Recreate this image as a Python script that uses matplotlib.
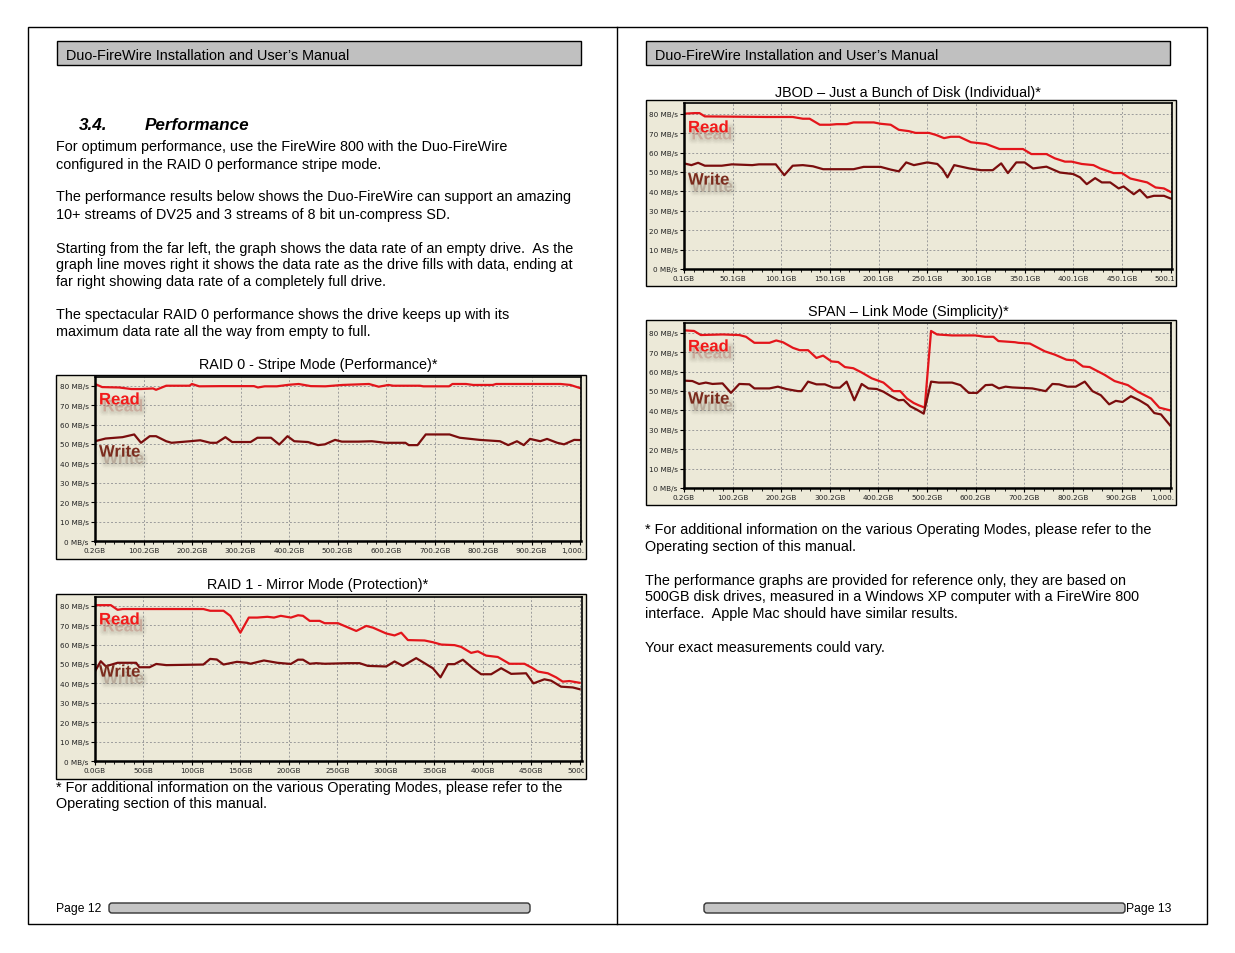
import matplotlib
matplotlib.use("Agg")
import matplotlib.pyplot as plt
import matplotlib.patheffects as pe
from matplotlib.patches import Rectangle, FancyBboxPatch
from matplotlib.ticker import AutoMinorLocator
from matplotlib.transforms import Bbox, TransformedBbox

# page size in pixels (figure is drawn at 100 dpi)
W, H = 1235, 954
plt.rcParams['font.family'] = ['Liberation Sans', 'DejaVu Sans']

BEIGE = '#ece9d8'
READ_C = '#e3151b'
WRITE_C = '#7a0d0d'

# ---- RAID 0 - stripe mode (GB written, MB/s) ----
r0_read_gb = [0.2, 15, 50, 75, 95, 120, 126, 147, 195, 200, 215, 260, 328, 336, 350, 375, 400, 420,
              445, 475, 510, 565, 585, 605, 615, 670, 677, 730, 737, 765, 780, 820, 827, 960, 980, 1000]
r0_read = [80.9, 79.3, 79.1, 78.3, 78.3, 78.6, 77.9, 80.0, 80.0, 80.9, 79.7, 79.8, 79.8, 79.1, 79.7,
           79.7, 80.5, 80.9, 79.8, 79.7, 80.4, 80.9, 79.5, 80.4, 80.0, 80.0, 79.7, 79.7, 80.9, 80.9,
           80.4, 80.4, 80.9, 80.9, 80.4, 78.8]
r0_write_gb = [0.2, 22, 57, 81, 95, 113, 126, 147, 158, 196, 217, 238, 251, 269, 283, 321, 335, 363,
               380, 397, 411, 439, 460, 474, 495, 509, 543, 571, 599, 640, 647, 665, 682, 731, 752,
               793, 835, 852, 870, 884, 897, 918, 932, 953, 967, 988, 1001]
r0_write = [51.4, 52.8, 53.5, 54.9, 50.6, 54.0, 54.0, 51.4, 50.6, 51.4, 51.9, 50.6, 50.6, 53.5, 51.0,
            51.0, 53.2, 53.2, 49.7, 54.0, 51.4, 51.0, 49.4, 49.8, 52.1, 51.2, 51.2, 51.4, 50.6, 50.6,
            49.4, 49.4, 54.9, 54.9, 53.2, 52.1, 51.4, 49.4, 51.4, 49.4, 52.6, 51.4, 52.6, 50.6, 49.8,
            52.1, 52.0]
r0_ticks = [0.2, 100.2, 200.2, 300.2, 400.2, 500.2, 600.2, 700.2, 800.2, 900.2, 1000.2]
r0_labels = ['0.2GB', '100.2GB', '200.2GB', '300.2GB', '400.2GB', '500.2GB', '600.2GB', '700.2GB',
             '800.2GB', '900.2GB', '1,000.2GB']

# ---- RAID 1 - mirror mode ----
r1_read_gb = [0, 16.3, 23.3, 28.5, 111.8, 118.8, 132.6, 139.6, 150, 158.7, 167.4, 177.8, 184.7, 191.7,
              202.1, 209.5, 214.6, 221.5, 231.8, 237, 250.7, 269.6, 279.9, 286.8, 300.5, 309.1, 316,
              322.9, 340, 348.6, 357.2, 371, 377.8, 388.1, 395, 403.6, 415.6, 427.7, 443.1, 451.7,
              456.9, 467.2, 475.8, 482.6, 489.5, 500]
r1_read = [80.3, 80.3, 77.9, 78.3, 78.3, 77.4, 77.4, 74.8, 66.1, 73.9, 73.9, 74.3, 73.9, 74.8, 73.9,
           75.1, 74.8, 72.2, 72.2, 71.0, 71.0, 67.0, 69.6, 68.7, 65.7, 64.7, 66.1, 62.3, 62.1, 61.2,
           60.0, 59.7, 58.8, 55.7, 56.5, 54.3, 53.6, 50.1, 50.1, 47.8, 46.1, 45.2, 43.1, 40.9, 41.2,
           40.3]
r1_write_gb = [0, 5.9, 11.1, 23.3, 42.4, 45.8, 56.3, 63.2, 73.6, 111.8, 118.8, 125.7, 132.6, 146.5,
               156.9, 160.4, 174.3, 188.2, 202.1, 209.5, 214.6, 221.5, 228.3, 237, 261, 273, 281.6,
               300.5, 309.1, 317.7, 331.4, 340, 348.6, 356.5, 364.1, 371, 379.6, 389.9, 398.5, 408.8,
               419.1, 429.4, 444.8, 452.4, 463.7, 470.6, 480.9, 493, 500]
r1_write = [46.2, 51.4, 48.8, 50.6, 50.6, 48.3, 48.3, 50.0, 49.4, 49.7, 52.6, 52.3, 49.7, 51.1, 50.6,
            50.1, 51.8, 50.6, 50.0, 52.2, 52.2, 50.1, 50.4, 50.1, 50.4, 50.4, 49.0, 48.7, 51.3, 49.0,
            53.0, 50.4, 47.8, 43.1, 49.9, 49.9, 52.2, 47.8, 44.7, 44.7, 47.8, 44.9, 45.2, 40.0, 42.1,
            41.4, 38.3, 37.9, 37.0]
r1_ticks = [0, 50, 100, 150, 200, 250, 300, 350, 400, 450, 500]
r1_labels = ['0.0GB', '50GB', '100GB', '150GB', '200GB', '250GB', '300GB', '350GB', '400GB',
             '450GB', '500GB']

# ---- JBOD ----
jb_read_gb = [0.1, 11, 16, 21.5, 84, 111.8, 122.2, 129.2, 139.6, 150, 157, 167.4, 174.3, 195.1, 202.1,
              212.5, 220.8, 231.1, 238, 251.8, 258.7, 267.3, 274.2, 282.9, 294.9, 310.4, 324.2, 348.4,
              357, 372.5, 381.1, 391.5, 398.4, 408.7, 420.8, 427.7, 441.5, 450.1, 458.7, 469.1, 476,
              484.6, 493.2, 500.1]
jb_read = [80.0, 80.3, 80.3, 78.6, 78.3, 78.3, 77.4, 77.4, 74.3, 74.3, 74.6, 74.6, 75.5, 75.5, 74.8,
           74.3, 71.7, 71.0, 70.1, 70.1, 69.1, 67.4, 68.1, 68.1, 65.3, 64.4, 61.8, 61.8, 59.2, 59.2,
           57.0, 55.3, 55.3, 54.1, 53.5, 51.8, 49.4, 49.4, 46.6, 45.4, 44.6, 42.0, 41.5, 39.7]
jb_write_gb = [0.1, 7.7, 14.6, 21.5, 38.9, 49.3, 70.2, 77.1, 94.4, 103.1, 111.8, 122.2, 132.6, 143.1,
               174.3, 184.7, 202.1, 212.5, 220.8, 228.4, 236.3, 250.1, 260.4, 265.6, 270.8, 277.7,
               293.2, 305.3, 317.3, 326, 332.9, 341.5, 350.1, 358.7, 372.5, 386.3, 400.1, 407, 413.9,
               422.5, 429.4, 438, 446.7, 451.8, 462.2, 468.4, 476, 482.9, 493.2, 500.1]
jb_write = [54.4, 53.5, 54.7, 53.2, 53.2, 53.9, 53.5, 53.9, 53.9, 48.3, 53.2, 53.5, 52.9, 51.4, 51.4,
            52.6, 52.6, 51.2, 50.3, 54.9, 53.5, 54.9, 54.1, 51.5, 47.2, 53.5, 51.8, 50.9, 50.9, 54.4,
            49.4, 54.9, 54.9, 51.8, 52.7, 49.7, 48.9, 47.2, 43.7, 46.8, 44.6, 44.6, 41.5, 42.5, 38.5,
            40.8, 36.8, 37.7, 37.7, 36.3]
jb_ticks = [0.1, 50.1, 100.1, 150.1, 200.1, 250.1, 300.1, 350.1, 400.1, 450.1, 500.1]
jb_labels = ['0.1GB', '50.1GB', '100.1GB', '150.1GB', '200.1GB', '250.1GB', '300.1GB', '350.1GB',
             '400.1GB', '450.1GB', '500.1GB']

# ---- SPAN ----
sp_read_gb = [0.2, 20.9, 34.7, 79.5, 114, 127.8, 145, 176, 189.9, 203.6, 224.3, 238.1, 255.4, 272.6,
              286.4, 303.6, 317.4, 331.2, 348.5, 365.7, 386.4, 410.5, 431.2, 445, 458.8, 472.6, 483,
              495.4, 508.4, 520.7, 551.4, 599.2, 619.7, 636.7, 647, 681.1, 687.9, 711.8, 742.5, 763,
              786.9, 804, 821, 834.7, 865.4, 885.9, 913.2, 933.7, 961, 978, 1000]
sp_read = [81.2, 80.9, 78.8, 79.1, 78.8, 77.9, 74.8, 74.8, 76.0, 75.1, 72.2, 71.0, 71.0, 67.0, 68.2,
           65.2, 64.9, 62.3, 61.7, 59.5, 56.5, 54.3, 49.9, 49.9, 46.1, 43.8, 42.6, 41.4, 80.9, 79.1,
           78.6, 78.6, 77.9, 77.9, 75.7, 75.1, 74.8, 74.4, 70.4, 68.7, 66.1, 65.7, 62.6, 62.3, 58.3,
           55.1, 53.0, 49.6, 46.1, 41.4, 40.0]
sp_write_gb = [0.2, 17.4, 31.2, 45, 58.8, 79.5, 96.8, 114, 134.7, 145, 176, 193.3, 210.5, 234.7, 241.6,
               255.4, 272.6, 289.9, 307.1, 320.9, 334.7, 350.6, 365.7, 379.5, 396.8, 410.5, 427.8,
               441.6, 452, 465.7, 479.5, 493.3, 508.5, 524.3, 551.7, 568.9, 586.1, 603.3, 620.5, 634.2,
               648, 661.7, 675.5, 716.7, 744.2, 758, 771.7, 788.9, 806.1, 824.6, 840.4, 857.6, 874.8,
               888.5, 902.3, 919.5, 936.7, 953.9, 967.7, 981.4, 1000]
sp_write = [55.3, 55.1, 53.6, 54.3, 53.6, 53.9, 49.0, 53.6, 53.4, 51.3, 51.3, 52.2, 51.0, 49.9, 49.9,
            54.8, 53.4, 53.4, 51.7, 51.7, 54.8, 45.2, 53.6, 51.3, 51.0, 49.6, 47.0, 45.2, 45.4, 42.1,
            40.3, 38.3, 54.8, 54.3, 54.3, 53.0, 49.0, 49.0, 53.0, 53.2, 51.3, 52.2, 51.8, 51.3, 49.9,
            53.6, 53.4, 52.2, 52.2, 54.8, 49.9, 47.8, 43.1, 44.9, 44.3, 47.3, 45.2, 42.6, 38.6, 37.9,
            32.3]
sp_ticks = r0_ticks
sp_labels = r0_labels

mb_ticks = [0, 10, 20, 30, 40, 50, 60, 70, 80]
mb_labels = ['%d MB/s' % v for v in mb_ticks]

# ---- page text ----
header_text = 'Duo-FireWire Installation and User’s Manual'
left_lines = [
    (147, 'For optimum performance, use the FireWire 800 with the Duo-FireWire'),
    (164, 'configured in the RAID 0 performance stripe mode.'),
    (197, 'The performance results below shows the Duo-FireWire can support an amazing'),
    (214, '10+ streams of DV25 and 3 streams of 8 bit un-compress SD.'),
    (248, 'Starting from the far left, the graph shows the data rate of an empty drive.  As the'),
    (265, 'graph line moves right it shows the data rate as the drive fills with data, ending at'),
    (282, 'far right showing data rate of a completely full drive.'),
    (315, 'The spectacular RAID 0 performance shows the drive keeps up with its'),
    (332, 'maximum data rate all the way from empty to full.'),
    (788, '* For additional information on the various Operating Modes, please refer to the'),
    (804, 'Operating section of this manual.'),
]
right_lines = [
    (530, '* For additional information on the various Operating Modes, please refer to the'),
    (547, 'Operating section of this manual.'),
    (581, 'The performance graphs are provided for reference only, they are based on'),
    (597, '500GB disk drives, measured in a Windows XP computer with a FireWire 800'),
    (614, 'interface.  Apple Mac should have similar results.'),
    (648, 'Your exact measurements could vary.'),
]

BODY = 10.4

fig = plt.figure(figsize=(W / 100, H / 100), dpi=100)
fig.patch.set_facecolor('white')

# one axes over the whole page, in pixel units (y down)
page = fig.add_axes([0, 0, 1, 1])
page.set_xlim(0, W)
page.set_ylim(H, 0)
page.axis('off')


def px_box(l, t, r, b):
    return [l / W, 1 - b / H, (r - l) / W, (b - t) / H]


# page frames
page.add_patch(Rectangle((28, 28), 1179, 897, fill=False, ec='black', lw=1))
page.plot([617, 617], [28, 925], color='black', lw=1)

# headers
for x0 in (57, 646):
    page.add_patch(Rectangle((x0, 42), 524, 24, fc='#c0c0c0', ec='black', lw=1))
    page.text(x0 + 9, 55.5, header_text, fontsize=BODY, va='center')

# footers
page.add_patch(FancyBboxPatch((109, 904), 421, 10, boxstyle='round,pad=0,rounding_size=3',
                              fc='#c4c4c4', ec='#333333', lw=1))
page.add_patch(FancyBboxPatch((704, 904), 421, 10, boxstyle='round,pad=0,rounding_size=3',
                              fc='#c4c4c4', ec='#333333', lw=1))
page.text(56, 909.5, 'Page 12', fontsize=8.7, va='center')
page.text(1126, 909.5, 'Page 13', fontsize=8.7, va='center')

# section heading + body text
page.text(79, 125.5, '3.4.', fontsize=12.3, fontweight='bold', style='italic', va='center')
page.text(145, 125.5, 'Performance', fontsize=12.3, fontweight='bold', style='italic', va='center')
for y, s in left_lines:
    page.text(56, y + 0.5, s, fontsize=BODY, va='center')
for y, s in right_lines:
    page.text(645, y + 0.5, s, fontsize=BODY, va='center')

# chart titles
page.text(318, 365.5, 'RAID 0 - Stripe Mode (Performance)*', fontsize=BODY, ha='center', va='center')
page.text(318, 585.5, 'RAID 1 - Mirror Mode (Protection)*', fontsize=BODY, ha='center', va='center')
page.text(908, 93.5, 'JBOD – Just a Bunch of Disk (Individual)*', fontsize=BODY, ha='center', va='center')
page.text(908, 312.5, 'SPAN – Link Mode (Simplicity)*', fontsize=BODY, ha='center', va='center')

# soft grey drop shadow under the Read / Write captions
shadow = [pe.Stroke(offset=(2.5, -5), linewidth=w, foreground='#6e6a5a', alpha=a)
          for w, a in ((7, 0.04), (5, 0.06), (3, 0.08))]
shadow += [pe.SimplePatchShadow(offset=(2.5, -5), shadow_rgbFace='#6e6a5a', alpha=0.12), pe.Normal()]


def draw_chart(frame, plot, read_gb, read, write_gb, write, ticks, labels, xmax, ymax):
    l, t, r, b = frame
    page.add_patch(Rectangle((l, t), r - l, b - t, fc=BEIGE, ec='black', lw=1))
    ax = fig.add_axes(px_box(*plot))
    ax.set_facecolor(BEIGE)
    ax.plot(read_gb, read, color=READ_C, lw=1.6, solid_joinstyle='round')
    ax.plot(write_gb, write, color=WRITE_C, lw=1.6, solid_joinstyle='round')
    ax.set_xlim(ticks[0], xmax)
    ax.set_ylim(0, ymax)
    ax.set_xticks(ticks)
    ax.set_xticklabels(labels)
    ax.set_yticks(mb_ticks)
    ax.set_yticklabels(mb_labels)
    ax.xaxis.set_minor_locator(AutoMinorLocator(5))
    ax.grid(True, which='major', color='#9c9c9c', ls=(0, (2, 2)), lw=0.7)
    ax.tick_params(which='major', length=3, width=0.8, pad=1.5, labelsize=5.2,
                   labelcolor='#222222', labelfontfamily='DejaVu Sans')
    ax.tick_params(which='minor', length=2, width=0.6)
    ax.tick_params(axis='y', which='minor', left=False)
    for side in ('left', 'bottom'):
        ax.spines[side].set_linewidth(1.8)
    for side in ('top', 'right'):
        ax.spines[side].set_linewidth(1.2)
    # last tick label is cut by the picture border
    clip = TransformedBbox(Bbox.from_extents(l / W, 1 - b / H, (r - 2) / W, 1 - t / H), fig.transFigure)
    for lbl in ax.get_xticklabels():
        lbl.set_clip_box(clip)
        lbl.set_clip_on(True)
    xfrac = 4 / (plot[2] - plot[0])
    ax.text(xfrac, 72.7, 'Read', transform=ax.get_yaxis_transform(), color='#f21a1a',
            fontsize=12, fontweight='bold', va='center', path_effects=shadow)
    ax.text(xfrac, 45.8, 'Write', transform=ax.get_yaxis_transform(), color='#7b2c1e',
            fontsize=12, fontweight='bold', va='center', path_effects=shadow)
    return ax


draw_chart((56, 376, 586, 560), (95, 378, 581, 542), r0_read_gb, r0_read, r0_write_gb, r0_write,
           r0_ticks, r0_labels, 1002, 84.5)
draw_chart((56, 595, 586, 780), (95, 598, 582, 762), r1_read_gb, r1_read, r1_write_gb, r1_write,
           r1_ticks, r1_labels, 502.5, 84.5)
draw_chart((646, 101, 1176, 287), (684, 104, 1172, 270), jb_read_gb, jb_read, jb_write_gb, jb_write,
           jb_ticks, jb_labels, 501.5, 85.5)
draw_chart((646, 321, 1176, 506), (684, 324, 1171, 489), sp_read_gb, sp_read, sp_write_gb, sp_write,
           sp_ticks, sp_labels, 1002, 85)

fig.savefig('out.png', dpi=100)
